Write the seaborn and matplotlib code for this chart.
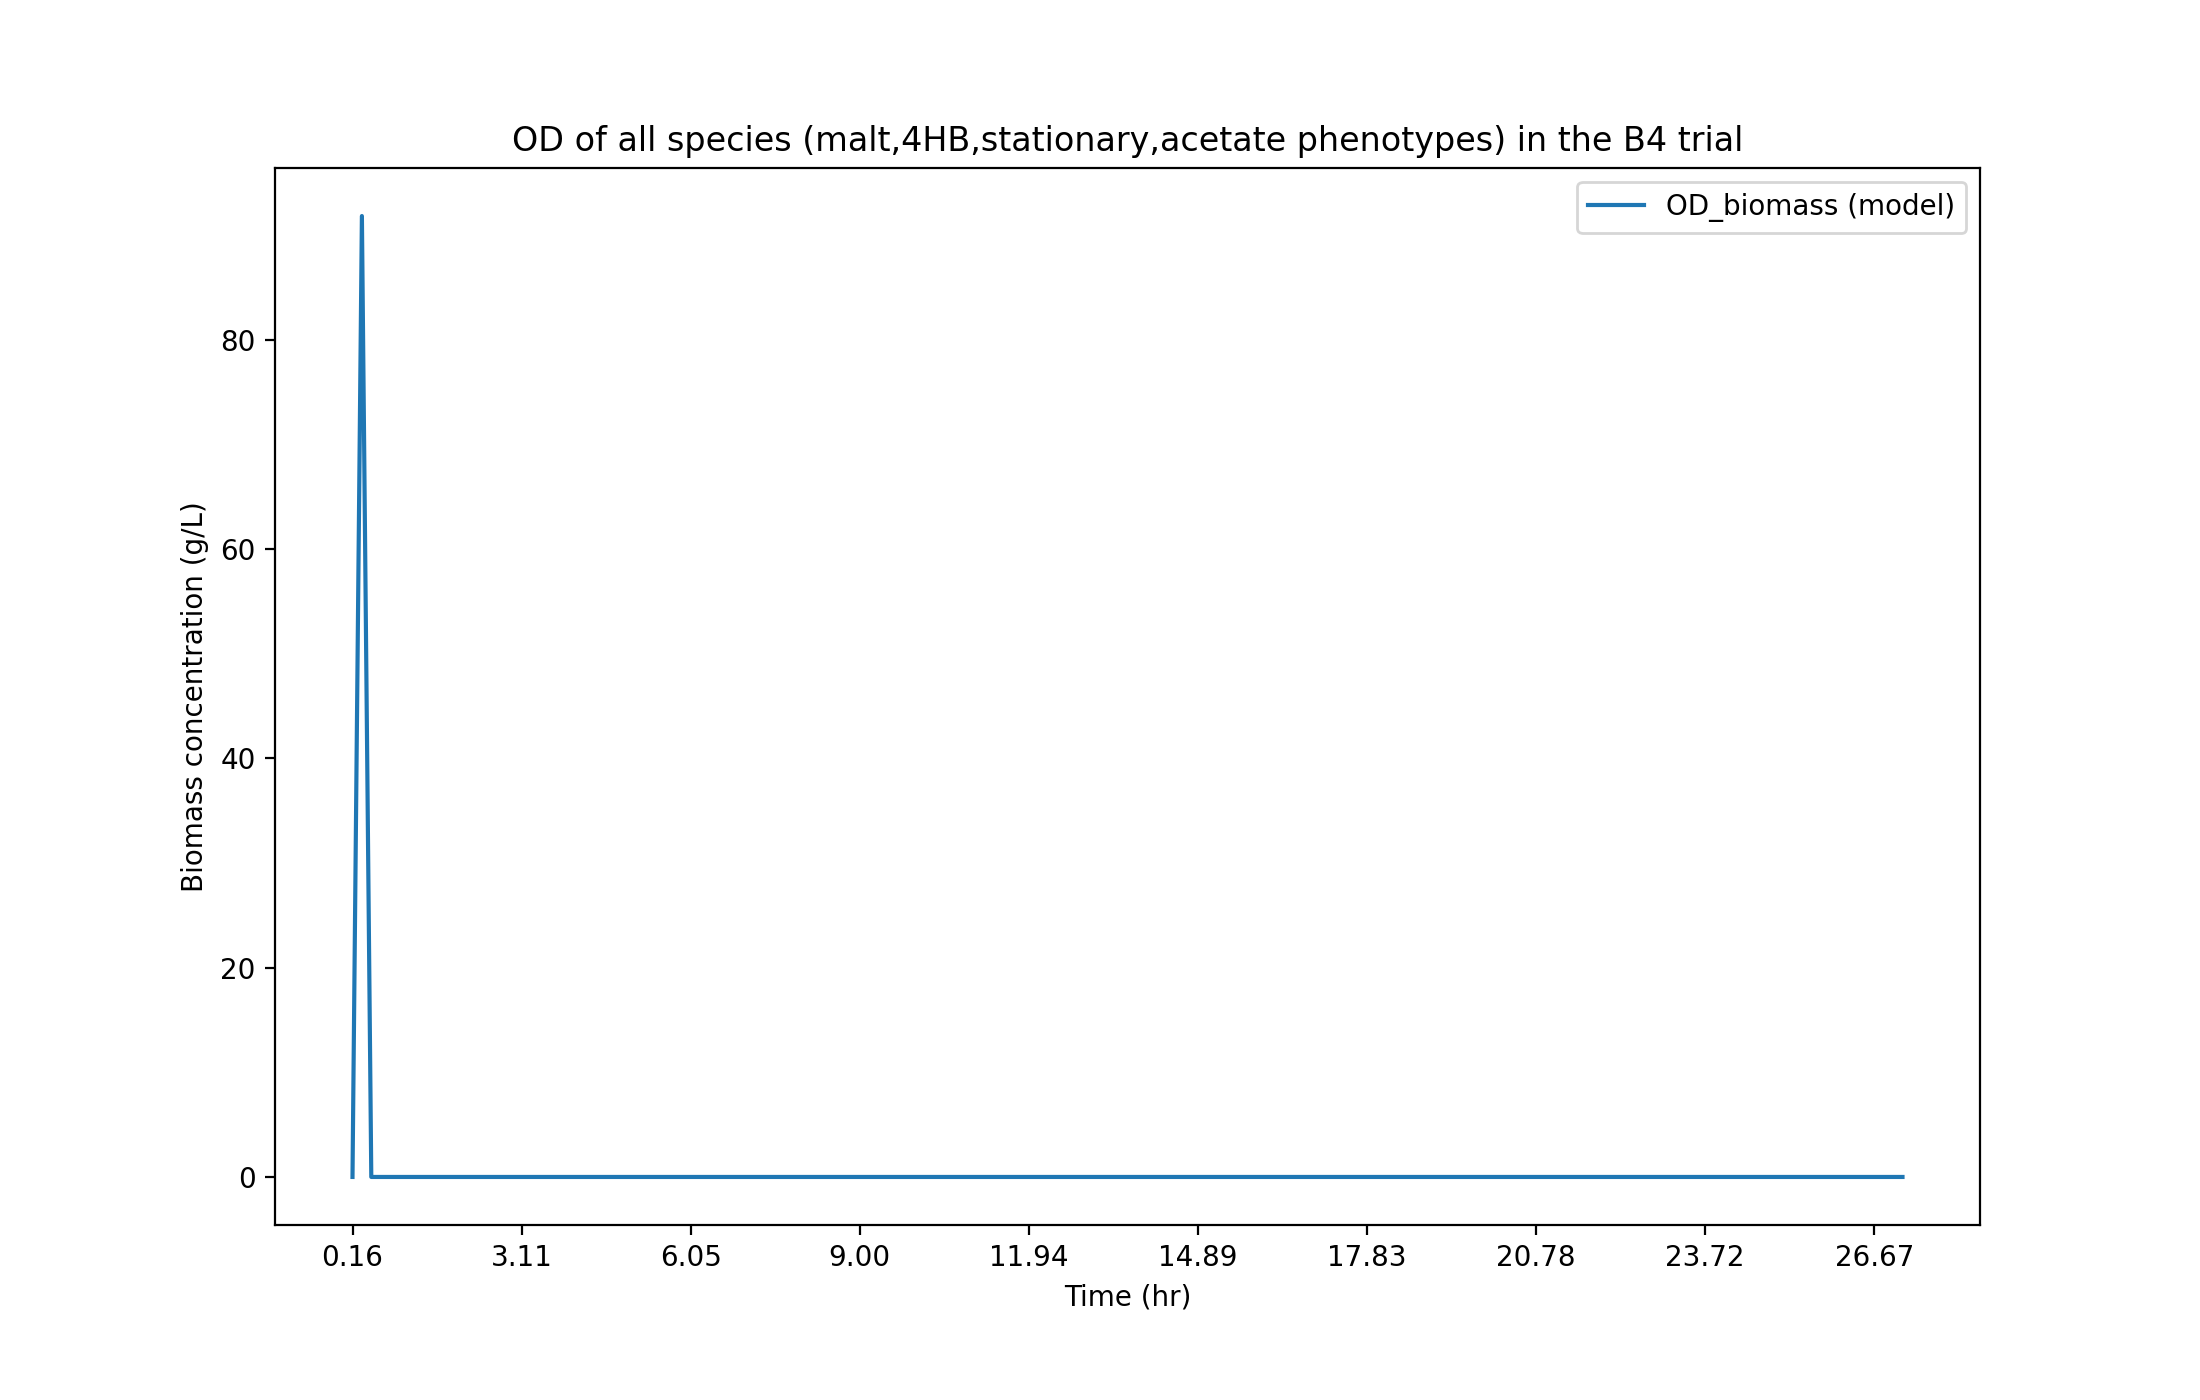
import matplotlib
matplotlib.use("Agg")
import matplotlib.pyplot as plt
import seaborn as sns
import pandas as pd

# Data
time_hr = [0.1636, 0.3273, 0.4909, 27.1636]
od_biomass = [0.0, 91.8, 0.0, 0.0]
tick_positions = [0.1636, 3.1091, 6.0545, 9.0, 11.9455, 14.8909, 17.8364, 20.7818, 23.7273, 26.6727]
tick_labels = ["0.16", "3.11", "6.05", "9.00", "11.94", "14.89", "17.83", "20.78", "23.72", "26.67"]

df = pd.DataFrame({"Time (hr)": time_hr, "OD_biomass (model)": od_biomass})

fig, ax = plt.subplots(figsize=(11, 7), dpi=200)
fig.subplots_adjust(left=0.125, right=0.9, top=0.88, bottom=0.125)
sns.lineplot(data=df, x="Time (hr)", y="OD_biomass (model)", ax=ax,
             label="OD_biomass (model)", color="#1f77b4")
ax.set_xticks(tick_positions)
ax.set_xticklabels(tick_labels)
ax.set_xlabel("Time (hr)")
ax.set_ylabel("Biomass concentration (g/L)")
ax.set_title("OD of all species (malt,4HB,stationary,acetate phenotypes) in the B4 trial")
ax.legend(loc="upper right")
fig.savefig("out.png", dpi=200)
